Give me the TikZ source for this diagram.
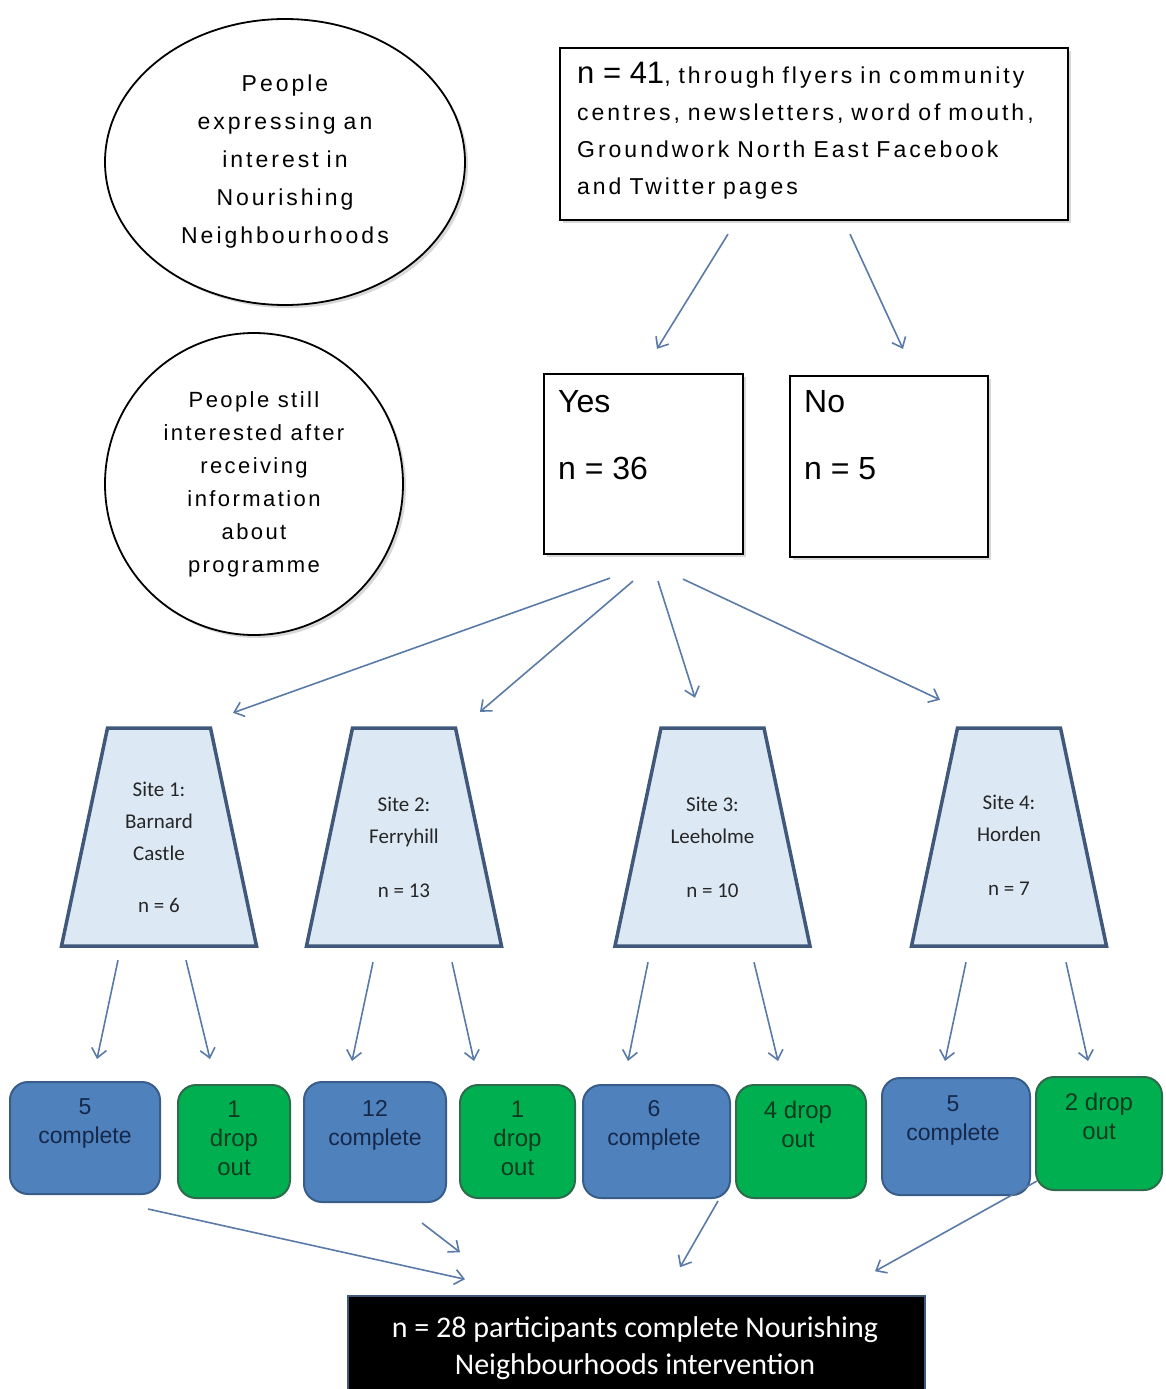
\documentclass[tikz,border=0pt]{standalone}
\usepackage{fontspec}
\setmainfont{Liberation Sans}
\newfontfamily\spacedfont[LetterSpace=13,WordSpace=0.85]{Liberation Sans}
\newfontfamily\lightspaced[LetterSpace=11]{Liberation Sans}
\newfontfamily\plainsans{Liberation Sans}
\newfontfamily\calfont{Carlito}
\usetikzlibrary{arrows.meta,calc,shadows,shapes.geometric}
\definecolor{arrowc}{HTML}{5A7AA8}
\definecolor{sitefill}{HTML}{DCE9F5}
\definecolor{sitedraw}{HTML}{40587A}
\definecolor{cblue}{HTML}{4F81BD}
\definecolor{cbluedraw}{HTML}{385D8A}
\definecolor{cbluetext}{HTML}{15284A}
\definecolor{cgreen}{HTML}{00B050}
\definecolor{cgreendraw}{HTML}{2E6B4C}
\definecolor{cgreentext}{HTML}{0E3A1E}
\tikzset{
  softshadow/.style={drop shadow={opacity=0.3,shadow xshift=3pt,shadow yshift=-3pt}},
  bubble/.style={ellipse,draw=black,line width=1.8pt,fill=white,softshadow,align=center,inner sep=0pt},
  plainbox/.style={rectangle,draw=black,line width=2.2pt,fill=white,softshadow,inner sep=0pt},
  sitearea/.style={rectangle,inner sep=0pt,minimum width=195pt,minimum height=218pt},
  sitepath/.style={fill=sitefill,draw=sitedraw,line width=3.5pt,line join=miter},
  sitetext/.style={align=center,font=\calfont\fontsize{21}{32}\selectfont,text=black!85},
  donebox/.style={rectangle,rounded corners=18pt,fill=cblue,draw=cbluedraw,line width=2pt},
  dropbox/.style={rectangle,rounded corners=18pt,fill=cgreen,draw=cgreendraw,line width=2pt},
  donelabel/.style={align=center,inner sep=0pt,anchor=north,text=cbluetext,font=\fontsize{23}{29}\selectfont},
  droplabel/.style={align=center,inner sep=0pt,anchor=north,text=cgreentext,font=\fontsize{24}{29}\selectfont},
  arr/.style={draw=arrowc,line width=1.6pt,-{Straight Barb[length=9pt,width=15pt,line width=1.6pt]}},
}
\newcommand{\trap}[1]{\draw[sitepath,shift={(#1)}] (-51.5,-109) -- (51.5,-109) -- (97.5,109) -- (-97.5,109) -- cycle;}
\begin{document}
\begin{tikzpicture}[x=1pt,y=-1pt]
\clip (0,0) rectangle (1165,1389);
\fill[white] (0,0) rectangle (1165,1389);

% left-hand stage labels
\node[bubble,minimum width=360pt,minimum height=286pt,font=\spacedfont\fontsize{23}{38}\selectfont] (e1) at (285,162)
  {People\\expressing an\\interest in\\Nourishing\\Neighbourhoods};
\node[bubble,minimum width=298pt,minimum height=302pt,font=\lightspaced\fontsize{22}{33}\selectfont] (e2) at (254,484)
  {People still\\interested after\\receiving\\information\\about\\programme};

% recruitment box
\node[plainbox,minimum width=508pt,minimum height=172pt] (top) at (814,134) {};
\node[anchor=north west,align=left,inner sep=0pt,font=\spacedfont\fontsize{23}{37}\selectfont] (toptext) at (577,62)
  {{\plainsans\fontsize{31}{37}\selectfont n = 41}, through flyers in community\\
   centres, newsletters, word of mouth,\\Groundwork North East Facebook\\and Twitter pages};

% yes / no boxes
\node[plainbox,minimum width=199pt,minimum height=180pt] (yes) at (643.5,464) {};
\node[anchor=north west,align=left,inner sep=0pt,font=\fontsize{32}{67}\selectfont] (yestext) at (558,390) {Yes\\n = 36};
\node[plainbox,minimum width=198pt,minimum height=181pt] (no) at (889,466.5) {};
\node[anchor=north west,align=left,inner sep=0pt,font=\fontsize{32}{67}\selectfont] (notext) at (804,390) {No\\n = 5};

% sites
\trap{159,837}
\trap{404,837}
\trap{712.5,837}
\trap{1009,837}
\node[sitearea] (s1) at (159,837) {};
\node[sitearea] (s2) at (404,837) {};
\node[sitearea] (s3) at (712.5,837) {};
\node[sitearea] (s4) at (1009,837) {};
\node[sitetext] (s1t) at (159,847) {Site 1:\\Barnard\\Castle\\[20pt]n = 6};
\node[sitetext] (s2t) at (404,847) {Site 2:\\Ferryhill\\[22pt]n = 13};
\node[sitetext] (s3t) at (712.5,847) {Site 3:\\Leeholme\\[22pt]n = 10};
\node[sitetext] (s4t) at (1009,845) {Site 4:\\Horden\\[22pt]n = 7};

% outcomes per site
\node[donebox,minimum width=150pt,minimum height=112pt] (b1) at (85,1138) {};
\node[donelabel] (b1t) at (85,1098) {5\\complete};
\node[dropbox,minimum width=112pt,minimum height=113pt] (g1) at (234,1141.5) {};
\node[droplabel] (g1t) at (234,1101) {1\\drop\\out};
\node[donebox,minimum width=142pt,minimum height=120pt] (b2) at (375,1142) {};
\node[donelabel] (b2t) at (375,1100) {12\\complete};
\node[dropbox,minimum width=115pt,minimum height=113pt] (g2) at (517.5,1141.5) {};
\node[droplabel] (g2t) at (517.5,1101) {1\\drop\\out};
\node[donebox,minimum width=147pt,minimum height=113pt] (b3) at (656.5,1141.5) {};
\node[donelabel] (b3t) at (654,1100) {6\\complete};
\node[dropbox,minimum width=130pt,minimum height=113pt] (g3) at (801,1141.5) {};
\node[droplabel] (g3t) at (798,1101) {4 drop\\out};
\node[donebox,minimum width=148pt,minimum height=117pt] (b4) at (956,1136.5) {};
\node[donelabel] (b4t) at (953,1095) {5\\complete};
\node[dropbox,minimum width=126pt,minimum height=113pt] (g4) at (1099,1133.5) {};
\node[droplabel] (g4t) at (1099,1093) {2 drop\\out};

% overall result
\node[rectangle,fill=black,draw=sitedraw,line width=1.5pt,minimum width=577pt,minimum height=112pt] (fin) at (636.5,1352) {};
\node[align=center,text=white,font=\calfont\fontsize{30}{37}\selectfont] (fintext) at (635,1348)
  {n = 28 participants complete Nourishing\\Neighbourhoods intervention};

% connectors
\draw[arr] ($(top.south)+(-86,13)$) -- ($(yes.north)+(13.5,-24)$);
\draw[arr] ($(top.south)+(36,13)$) -- ($(no.north)+(14,-26)$);

\draw[arr] ($(yes.south)+(-33.5,23)$) -- ($(s1.north)+(74,-15)$);
\draw[arr] ($(yes.south)+(-10.5,26)$) -- ($(s2.north)+(76,-16)$);
\draw[arr] ($(yes.south)+(14.5,26)$) -- ($(s3.north)+(-17.5,-30)$);
\draw[arr] ($(yes.south)+(39.5,24)$) -- ($(s4.north)+(-69,-28)$);

\draw[arr] ($(s1.south)+(-41,14)$) -- ($(b1.north)+(12,-22)$);
\draw[arr] ($(s1.south)+(27,14)$) -- ($(g1.north)+(-24,-25)$);
\draw[arr] ($(s2.south)+(-31,16)$) -- ($(b2.north)+(-23,-20)$);
\draw[arr] ($(s2.south)+(48,16)$) -- ($(g2.north)+(-43.5,-23)$);
\draw[arr] ($(s3.south)+(-64.5,16)$) -- ($(b3.north)+(-28.5,-23)$);
\draw[arr] ($(s3.south)+(41.5,16)$) -- ($(g3.north)+(-23,-23)$);
\draw[arr] ($(s4.south)+(-43,16)$) -- ($(b4.north)+(-11,-16)$);
\draw[arr] ($(s4.south)+(57,16)$) -- ($(g4.north)+(-11,-15)$);

\draw[arr] ($(b1.south)+(63,14)$) -- ($(fin.north)+(-171.5,-16)$);
\draw[arr] ($(b2.south)+(47,20)$) -- ($(fin.north)+(-176.5,-43)$);
\draw[arr] ($(b3.south)+(61.5,2)$) -- ($(fin.north)+(43.5,-28)$);
\draw[arr] ($(b4.south)+(81,-15)$) -- ($(fin.north)+(238.5,-24)$);
\end{tikzpicture}
\end{document}
